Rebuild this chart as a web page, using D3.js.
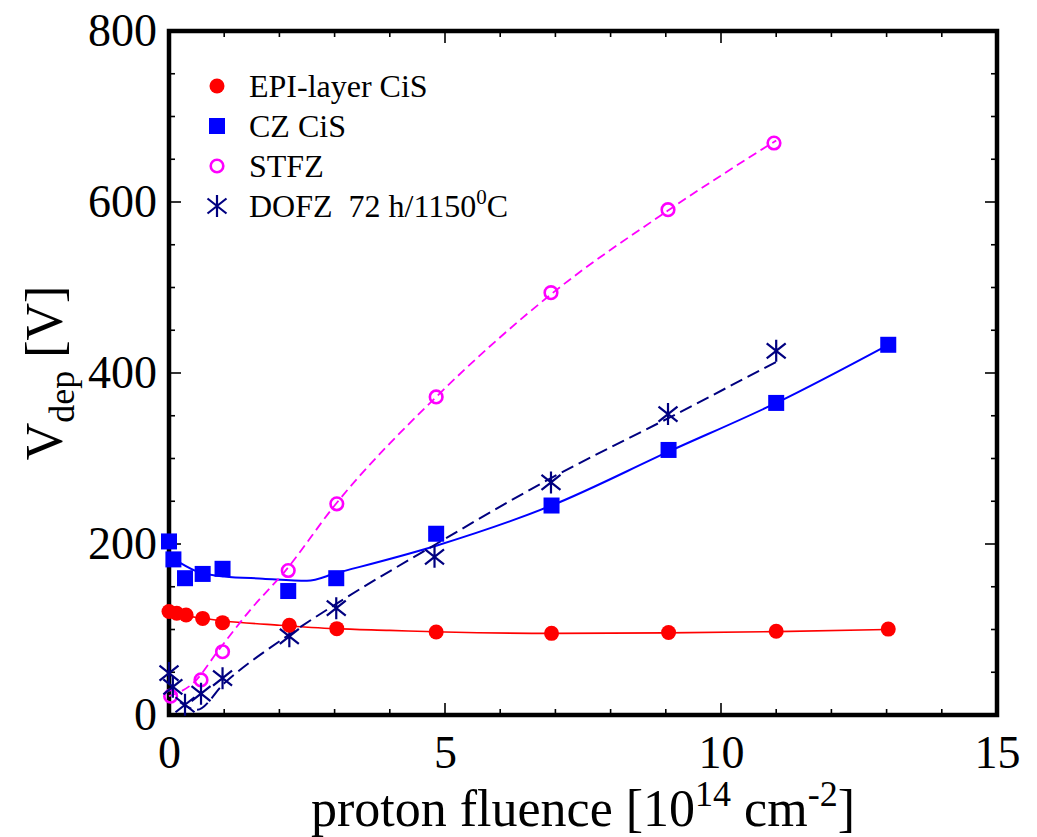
<!DOCTYPE html>
<html><head><meta charset="utf-8">
<script src="https://cdn.jsdelivr.net/npm/d3@7"></script>
<style>
html,body{margin:0;padding:0;background:#fff;}
svg{display:block;}
text{font-family:"Liberation Serif","Times New Roman",serif;fill:#000;}
</style></head>
<body>
<svg id="chart" width="1037" height="837"></svg>
<script>
// ---- data ----
const xTicks = [0, 5, 10, 15];
const yTicks = [0, 200, 400, 600, 800];
const xMinorTicks = d3.range(0, 15.01, 1);
const yMinorTicks = d3.range(0, 800.1, 50);

const seriesNames = ["EPI-layer CiS", "CZ CiS", "STFZ", "DOFZ\u00a0\u00a072 h/1150"];

const epiX = [0, 0.14, 0.31, 0.61, 0.97, 2.18, 3.04, 4.84, 6.93, 9.05, 11.0, 13.03];
const epiY = [121, 119, 117, 113, 108, 105, 101, 97, 95.5, 96.5, 98, 100.5];

const czX = [0, 0.08, 0.29, 0.61, 0.97, 2.16, 3.03, 4.84, 6.93, 9.05, 11.0, 13.03];
const czY = [203, 182, 160, 165, 171, 145, 160, 212, 245, 310, 365, 433];

const stfzX = [0.03, 0.58, 0.97, 2.16, 3.04, 4.84, 6.92, 9.04, 10.96];
const stfzY = [22, 41, 74, 169, 247, 372, 494, 591, 669];

const dofzX = [0, 0.07, 0.29, 0.58, 0.97, 2.18, 3.03, 4.81, 6.92, 9.04, 11.0];
const dofzY = [49, 33, 12, 25, 43, 92, 125, 185, 272, 352, 426];

// fitted curves drawn through the data
const epiFitX = [0, 0.5, 1, 2, 3, 4, 5, 7, 9, 11, 13];
const epiFitY = [120, 114, 110, 105, 101, 99, 97, 95.5, 96, 97.5, 100];

const czFitX = [0.05, 0.5, 1.0, 1.7, 2.5, 3.03, 4.84, 6.93, 9.05, 11.0, 13.03];
const czFitY = [184, 168, 162, 159.5, 157, 166, 198, 245, 308, 365, 433];

const stfzFitX = [0, 0.45, 0.9, 1.5, 2.1, 3.0, 4.84, 6.92, 9.04, 11.0];
const stfzFitY = [22, 38, 76, 125, 168, 245, 372, 492, 590, 672];

const dofzFitX = [0.2, 0.5, 1.0, 2.2, 3.03, 4.84, 6.92, 9.04, 11.0];
const dofzFitY = [15, 6, 37, 95, 130, 200, 277, 347, 413];

// ---- layout ----
const svg = d3.select("#chart");
const L = 169, R = 997, T = 31, B = 715;
const x = d3.scaleLinear().domain([0, 15]).range([L, R]);
const y = d3.scaleLinear().domain([0, 800]).range([B, T]);

const FONT = "Liberation Serif";

// ticks (inside, mirrored)
const tickG = svg.append("g").attr("stroke", "#000").attr("stroke-width", 1.6);
xMinorTicks.forEach(v => {
  const major = xTicks.includes(v);
  const len = major ? 12 : 6;
  tickG.append("line").attr("x1", x(v)).attr("x2", x(v)).attr("y1", B).attr("y2", B - len);
  tickG.append("line").attr("x1", x(v)).attr("x2", x(v)).attr("y1", T).attr("y2", T + len);
});
yMinorTicks.forEach(v => {
  const major = yTicks.includes(v);
  const len = major ? 12 : 6;
  tickG.append("line").attr("y1", y(v)).attr("y2", y(v)).attr("x1", L).attr("x2", L + len);
  tickG.append("line").attr("y1", y(v)).attr("y2", y(v)).attr("x1", R).attr("x2", R - len);
});

// axis tick labels via d3 axes
const xAxis = d3.axisBottom(x).tickValues(xTicks).tickSize(0).tickPadding(20).tickFormat(d3.format("d"));
const gx = svg.append("g").attr("transform", `translate(0,${B})`).call(xAxis);
gx.select(".domain").remove();
gx.selectAll("text").attr("font-family", FONT).attr("font-size", 46).attr("fill", "#000");

const yAxis = d3.axisLeft(y).tickValues(yTicks).tickSize(0).tickPadding(12).tickFormat(d3.format("d"));
const gy = svg.append("g").attr("transform", `translate(${L},0)`).call(yAxis);
gy.select(".domain").remove();
gy.selectAll("text").attr("font-family", FONT).attr("font-size", 46).attr("fill", "#000");

// frame
svg.append("rect").attr("x", L).attr("y", T).attr("width", R - L).attr("height", B - T)
  .attr("fill", "none").attr("stroke", "#000").attr("stroke-width", 4.5);

// lines
const zip = (xs, ys) => xs.map((v, i) => [v, ys[i]]);
const line = d3.line().x(d => x(d[0])).y(d => y(d[1])).curve(d3.curveMonotoneX);

svg.append("path").datum(zip(epiFitX, epiFitY)).attr("d", line)
  .attr("fill", "none").attr("stroke", "#ff0000").attr("stroke-width", 1.6);
svg.append("path").datum(zip(czFitX, czFitY)).attr("d", line)
  .attr("fill", "none").attr("stroke", "#0000ff").attr("stroke-width", 2);
svg.append("path").datum(zip(stfzFitX, stfzFitY)).attr("d", line)
  .attr("fill", "none").attr("stroke", "#ff00ff").attr("stroke-width", 1.8).attr("stroke-dasharray", "9,5");
svg.append("path").datum(zip(dofzFitX, dofzFitY)).attr("d", line)
  .attr("fill", "none").attr("stroke", "#000080").attr("stroke-width", 2).attr("stroke-dasharray", "13,6");

// markers
function circleFilled(g, cx, cy) {
  g.append("circle").attr("cx", cx).attr("cy", cy).attr("r", 7.5).attr("fill", "#ff0000");
}
function squareFilled(g, cx, cy) {
  g.append("rect").attr("x", cx - 8).attr("y", cy - 8).attr("width", 16).attr("height", 16).attr("fill", "#0000ff");
}
function circleOpen(g, cx, cy) {
  g.append("circle").attr("cx", cx).attr("cy", cy).attr("r", 6.3).attr("fill", "none")
    .attr("stroke", "#ff00ff").attr("stroke-width", 2.6);
}
function asterisk(g, cx, cy) {
  const h = 11, dx = 9.5, dy = 7.5;
  const p = `M${cx},${cy - h}L${cx},${cy + h}M${cx - dx},${cy - dy}L${cx + dx},${cy + dy}M${cx - dx},${cy + dy}L${cx + dx},${cy - dy}`;
  g.append("path").attr("d", p).attr("stroke", "#000080").attr("stroke-width", 2.2).attr("fill", "none");
}

const mg = svg.append("g");
zip(stfzX, stfzY).forEach(d => circleOpen(mg, x(d[0]), y(d[1])));
zip(dofzX, dofzY).forEach(d => asterisk(mg, x(d[0]), y(d[1])));
zip(epiX, epiY).forEach(d => circleFilled(mg, x(d[0]), y(d[1])));
zip(czX, czY).forEach(d => squareFilled(mg, x(d[0]), y(d[1])));

// legend
const legY = [86, 126, 166, 206];
const legMx = 217, legTx = 249;
const lg = svg.append("g");
circleFilled(lg, legMx, legY[0]);
squareFilled(lg, legMx, legY[1]);
circleOpen(lg, legMx, legY[2]);
asterisk(lg, legMx, legY[3]);
seriesNames.forEach((n, i) => {
  const t = lg.append("text").attr("x", legTx).attr("y", legY[i] + 11)
    .attr("font-family", FONT).attr("font-size", 32).text(n);
  if (i === 3) {
    t.append("tspan").attr("dy", -13).attr("font-size", 21).text("0");
    t.append("tspan").attr("dy", 13).text("C");
  }
});

// axis titles
const xt = svg.append("text").attr("x", 583).attr("y", 826).attr("text-anchor", "middle")
  .attr("font-family", FONT).attr("font-size", 52);
xt.append("tspan").text("proton fluence [10");
xt.append("tspan").attr("dy", -20).attr("font-size", 36).text("14");
xt.append("tspan").attr("dy", 20).text(" cm");
xt.append("tspan").attr("dy", -20).attr("font-size", 36).text("-2");
xt.append("tspan").attr("dy", 20).text("]");

const yt = svg.append("text").attr("transform", "translate(62,373) rotate(-90)")
  .attr("text-anchor", "middle").attr("font-family", FONT).attr("font-size", 52);
yt.append("tspan").text("V");
yt.append("tspan").attr("dy", 12).attr("font-size", 36).text("dep");
yt.append("tspan").attr("dy", -12).text(" [V]");
</script>
</body></html>
